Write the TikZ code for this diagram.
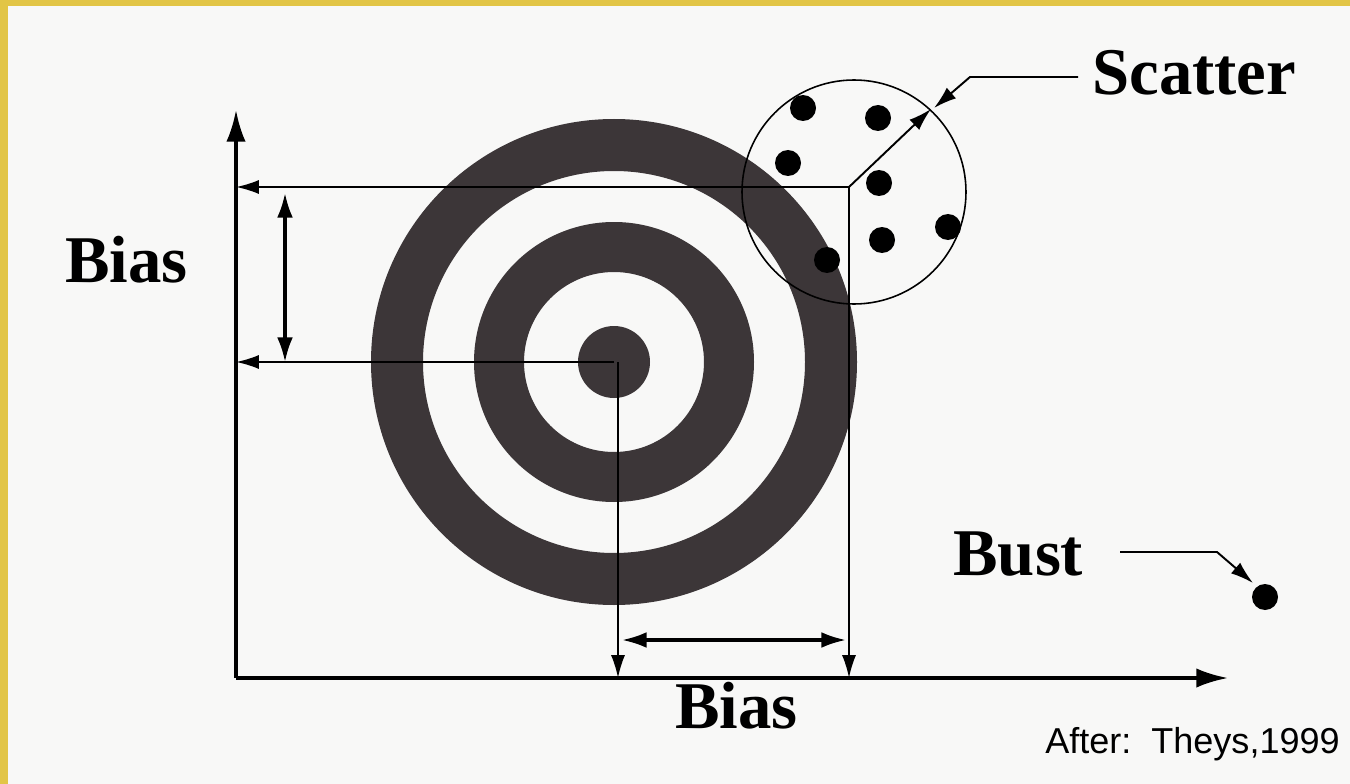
\documentclass[tikz,border=0pt]{standalone}
\usepackage{fontspec}
\setmainfont{Liberation Serif}
\newfontfamily\sansfont{Liberation Sans}
\usetikzlibrary{arrows.meta}
\definecolor{frame}{RGB}{226,197,70}
\definecolor{paper}{RGB}{248,248,247}
\definecolor{ink}{RGB}{60,54,56}
\begin{document}
\begin{tikzpicture}[x=0.02cm, y=-0.02cm,
  lbl/.style={font=\fontsize{38}{40}\selectfont\bfseries, inner sep=0, anchor=base west},
  ring/.style={fill=ink, even odd rule},
  thin/.style={line width=1.1pt, -{Latex[length=13pt,width=8pt]}},
  both/.style={line width=1.8pt, {Latex[length=14pt,width=9pt]}-{Latex[length=14pt,width=9pt]}},
  axis/.style={line width=2pt, -{Latex[length=18pt,width=11pt]}},
  shot/.style={fill=black}]
\fill[frame] (0,0) rectangle (1350,784);
\fill[paper] (8,6) rectangle (1350,784);
\useasboundingbox (0,0) rectangle (1350,784);
\coordinate (O) at (236,678);
\coordinate (ytop) at (236,110);
\coordinate (xend) at (1228,678);
\coordinate (c) at (614,362);
\coordinate (m) at (849,187);
\coordinate (sc) at (854,192);
\fill[ring] (c) circle (243) (c) circle (191);
\fill[ring] (c) circle (140) (c) circle (90);
\fill[ring] (c) circle (36);
\draw[line width=0.9pt] (sc) circle (112);
\foreach \p in {(803,108),(878,118),(788,163),(879,183),(882,240),(948,227),(827,260)}
  \fill[shot] \p circle (13);
\fill[shot] (1265,597) coordinate (bust) circle (13);
\draw[axis] (O) -- (ytop);
\draw[axis] (O) -- (xend);
\draw[thin] (m) -- (m -| O);
\draw[thin] (c) -- (c -| O);
\draw[thin] (m) -- (m |- O);
\draw[thin] (c) ++(4,0) coordinate (cv) -- (cv |- O);
\coordinate (v1) at (285,193);
\coordinate (v2) at (285,362);
\draw[both] (v1) -- (v2);
\coordinate (h1) at (622,640);
\coordinate (h2) at (846,640);
\draw[both] (h1) -- (h2);
\coordinate (r) at (931,109);
\draw[thin] (m) -- (r);
\node[lbl] (scatter) at (1092,95) {Scatter};
\node[lbl] (biasy) at (65,282) {Bias};
\node[lbl] (biasx) at (675,728) {Bias};
\node[lbl] (bustlbl) at (953,575) {Bust};
\node[font=\sansfont\fontsize{20.5}{22}\selectfont, inner sep=0, anchor=base east] (src) at (1340,753) {After:~~Theys,1999};
\draw[thin] (scatter.west |- 0,77) ++(-14,0) -- (970,77) -- (934,108);
\draw[thin] (1120,552) -- (1217,552) -- (1253,583);
\end{tikzpicture}
\end{document}
